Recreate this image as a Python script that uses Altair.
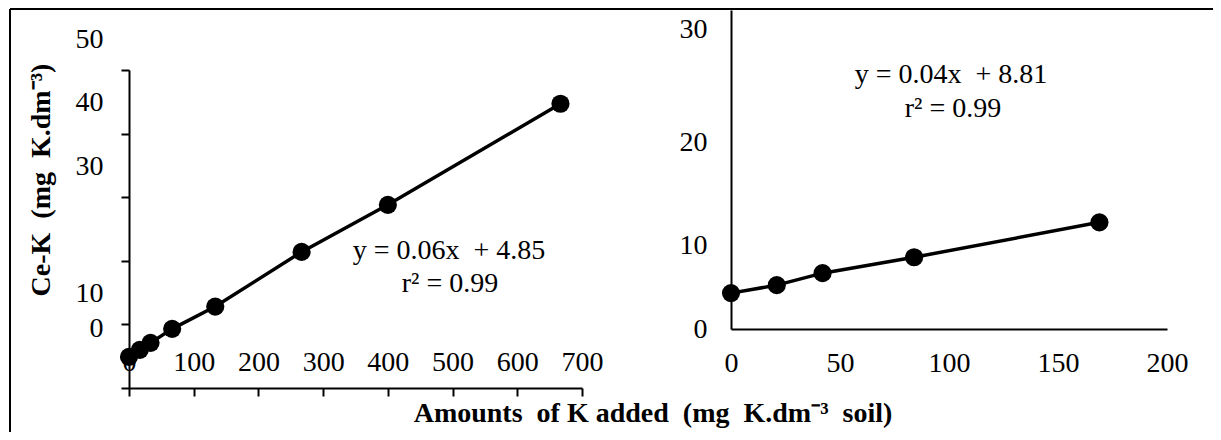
import altair as alt
import pandas as pd

# ---------------- data ----------------
left_x = [0, 16.7, 33.3, 66.7, 133.3, 266.7, 400, 666.7]
left_y = [4.9, 6.0, 7.1, 9.3, 12.8, 21.4, 28.8, 44.7]
right_x = [0, 21, 42, 84, 169]
right_y = [3.6, 4.4, 5.6, 7.2, 10.7]

left_xticks = [0, 100, 200, 300, 400, 500, 600, 700]
left_yticks = [0, 10, 20, 30, 40, 50]
right_xticks = [0, 50, 100, 150, 200]
right_yticks = [0, 10, 20, 30]

NB = "\u00a0"
eq_left = ["y = 0.06x" + NB + " + 4.85", "r\u00b2 = 0.99"]
eq_right = ["y = 0.04x" + NB + " + 8.81", "r\u00b2 = 0.99"]
x_title = ("Amounts" + NB + " of K added" + NB + " (mg" + NB + " K.dm\u207b\u00b3"
           + NB + " soil)")
y_title = "Ce-K" + NB + " (mg" + NB + " K.dm\u207b\u00b3)"

# ---------------- layout helpers ----------------
FONT = "Liberation Serif"
W, H = 1205, 424
OX, OY = 8, 8


def px(v):
    return v - OX


def py(v):
    return v - OY


left_df = pd.DataFrame({"x": left_x, "y": left_y})
right_df = pd.DataFrame({"x": right_x, "y": right_y})

axis_common = dict(
    title=None, grid=False, domainColor="black", domainWidth=2,
    tickColor="black", tickWidth=2, labelFont=FONT, labelColor="black",
    labelFontSize=28, labelFlush=False, labelOverlap=False,
)

# ---------------- left panel ----------------
lx = alt.X("x:Q",
           scale=alt.Scale(domain=[0, 700], range=[px(129), px(582)], nice=False, zero=False),
           axis=alt.Axis(orient="bottom", offset=py(388) - H, values=left_xticks, format="d",
                         tickSize=8, labelBaseline="middle", labelPadding=-34, **axis_common))
ly = alt.Y("y:Q",
           scale=alt.Scale(domain=[0, 50], range=[py(388), py(70)], nice=False, zero=False),
           axis=alt.Axis(orient="left", offset=-px(129), values=left_yticks, format="d",
                         tickSize=8, labelPadding=18,
                         labelExpr="datum.value == 20 ? '' : datum.label",
                         labelOffset={"condition": {"test": "datum.value == 0", "value": -60}, "value": -31},
                         **axis_common))

left_line = alt.Chart(left_df).mark_line(color="black", strokeWidth=3.5).encode(x=lx, y=ly)
left_pts = alt.Chart(left_df).mark_circle(color="black", size=330, opacity=1).encode(x=lx, y=ly)
left_panel = alt.layer(left_line, left_pts)

# ---------------- right panel ----------------
rx = alt.X("x:Q",
           scale=alt.Scale(domain=[0, 200], range=[px(731), px(1167)], nice=False, zero=False),
           axis=alt.Axis(orient="bottom", offset=py(329) - H, values=right_xticks, format="d",
                         ticks=False, labelBaseline="middle", labelPadding=34, **axis_common))
ry = alt.Y("y:Q",
           scale=alt.Scale(domain=[0, 32], range=[py(329), py(10)], nice=False, zero=False),
           axis=alt.Axis(orient="left", offset=-px(731), values=right_yticks, format="d",
                         ticks=False, labelPadding=24,
                         labelOffset={"condition": [{"test": "datum.value == 10", "value": 16},
                                                    {"test": "datum.value == 20", "value": 13}],
                                      "value": 0},
                         **axis_common))

right_line = alt.Chart(right_df).mark_line(color="black", strokeWidth=3.5).encode(x=rx, y=ry)
right_pts = alt.Chart(right_df).mark_circle(color="black", size=330, opacity=1).encode(x=rx, y=ry)
right_panel = alt.layer(right_line, right_pts)


# ---------------- annotations ----------------
def label(text, x, y, size=28, bold=False, angle=0):
    return alt.Chart(pd.DataFrame({"t": [text]})).mark_text(
        font=FONT, fontSize=size, fontWeight="bold" if bold else "normal",
        color="black", align="center", baseline="middle", angle=angle,
    ).encode(x=alt.value(px(x)), y=alt.value(py(y)), text="t:N")


one = pd.DataFrame({"k": [0]})
frame_top = alt.Chart(one).mark_rule(color="black", strokeWidth=2).encode(
    x=alt.value(2), x2=alt.value(W), y=alt.value(1))
frame_left = alt.Chart(one).mark_rule(color="black", strokeWidth=2).encode(
    x=alt.value(2), y=alt.value(1), y2=alt.value(H))

annotations = [
    label(eq_left[0], 449, 251), label(eq_left[1], 450, 284),
    label(eq_right[0], 951, 75), label(eq_right[1], 953, 109),
    label(x_title, 653, 414, size=28, bold=True),
    label(y_title, 42, 180, size=28, bold=True, angle=270),
    frame_top, frame_left,
]

chart = alt.layer(left_panel, right_panel, *annotations).resolve_scale(
    x="independent", y="independent"
).properties(
    width=W, height=H, padding=0, autosize=alt.AutoSizeParams(type="none"),
    background="white",
).configure_view(stroke=None)

chart.save("out.html", embed_options={"renderer": "svg", "actions": False})
